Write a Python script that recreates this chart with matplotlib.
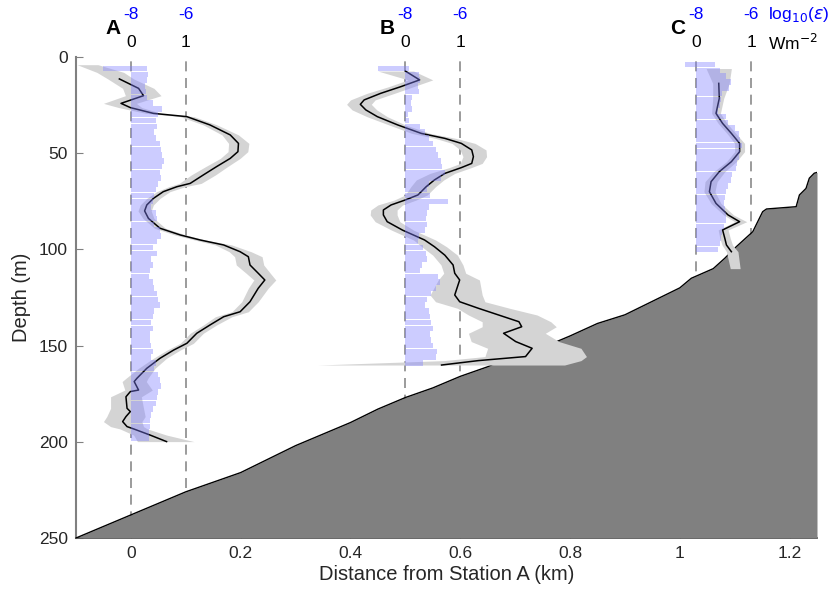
import matplotlib
matplotlib.use('Agg')
import matplotlib.pyplot as plt
import numpy as np

plt.rcParams['font.family'] = ['Liberation Sans', 'DejaVu Sans']

# ---------------- data ----------------
# bathymetry (km, m)
bathy_x = [-0.1, -0.05, 0.0, 0.05, 0.1, 0.15, 0.2, 0.25, 0.3, 0.35, 0.4, 0.45, 0.5,
           0.55, 0.6, 0.65, 0.7, 0.75, 0.8, 0.85, 0.9, 0.95, 1.0, 1.021, 1.061,
           1.082, 1.103, 1.133, 1.151, 1.158, 1.212, 1.218, 1.23, 1.236, 1.245, 1.25]
bathy_depth = [250, 244, 238, 232, 226, 221, 216, 209, 202, 196, 190, 183, 177,
               172, 166, 161, 155, 151, 145, 138.5, 134, 127, 120, 115, 110,
               104.6, 98.6, 90.8, 80.4, 79, 77.8, 71.7, 68.3, 63, 60.4, 60]

station_names = ['A', 'B', 'C']
station_x = [0.0, 0.5, 1.03]

# Station A: energy flux (W m^-2)
a_flux_depth = [11.4, 16.3, 20.1, 24.1, 26.3, 29.3, 31, 35.3, 40.5, 44.9, 49.2, 52.7,
                57, 61.3, 65.7, 67.4, 70, 73.5, 76.9, 80, 83.9, 89, 92.5, 95.1, 97.7,
                101.2, 103.8, 108.1, 112.4, 115.9, 120.2, 127.2, 132.4, 135, 139.3,
                143.6, 148.8, 152.3, 156.6, 161.8, 167, 168.7, 173.1, 173.9, 176.6,
                182.6, 184.3, 186.9, 189.5, 192.1, 193.3, 196.5, 199.9]
a_flux = [-0.21, 0.14, 0.23, -0.18, -0.01, 0.41, 1.02, 1.44, 1.81, 1.96, 1.95, 1.81,
          1.56, 1.32, 1.08, 0.84, 0.59, 0.41, 0.29, 0.25, 0.32, 0.53, 0.90, 1.26, 1.69,
          1.99, 2.14, 2.17, 2.32, 2.44, 2.32, 2.17, 1.99, 1.69, 1.44,
          1.20, 1.02, 0.78, 0.53, 0.29, 0.11, 0.06, 0.14, -0.01, -0.09,
          -0.07, -0.01, -0.09, -0.15, -0.07, 0.05, 0.35, 0.65]
a_band_depth = [4, 8, 11.4, 16.3, 20.1, 24.1, 26.3, 29.3, 31, 35.3, 40.5, 44.9, 49.2,
                52.7, 57, 61.3, 65.7, 67.4, 70, 73.5, 76.9, 80, 83.9, 89, 92.5, 95.1,
                97.7, 101.2, 103.8, 108.1, 112.4, 115.9, 120.2, 127.2, 132.4, 135,
                139.3, 143.6, 148.8, 152.3, 156.6, 161.8, 167, 168.7, 173.1, 176.6,
                182.6, 186.9, 189.5, 192.1, 193.3, 196.5, 199.9]
a_band_lo = [-0.98, -0.62, -0.42, -0.15, -0.1, -0.5, -0.22, 0.28, 0.9, 1.32, 1.66, 1.78,
             1.77, 1.63, 1.36, 1.1, 0.88, 0.69, 0.47, 0.29, 0.17, 0.13, 0.22, 0.43, 0.8,
             1.16, 1.54, 1.79, 1.89, 1.92, 2.1, 2.24, 2.14, 2.02, 1.84, 1.54,
             1.32, 1.08, 0.9, 0.66, 0.41, 0.14, -0.09, -0.16, -0.11, -0.37,
             -0.37, -0.44, -0.5, -0.37, -0.2, 0.05, 0.12]
a_band_hi = [-0.6, -0.13, 0.05, 0.42, 0.55, 0.1, 0.2, 0.55, 1.15, 1.57, 1.96, 2.15,
             2.13, 1.99, 1.76, 1.54, 1.28, 0.99, 0.71, 0.53, 0.41, 0.37, 0.42, 0.63, 1.0,
             1.36, 1.84, 2.19, 2.39, 2.42, 2.54, 2.64, 2.5, 2.32, 2.14, 1.84,
             1.56, 1.32, 1.14, 0.9, 0.65, 0.44, 0.31, 0.28, 0.39, 0.19,
             0.23, 0.26, 0.2, 0.23, 0.3, 0.65, 1.15]
# Station A: log10(epsilon)
a_eps_depth = [6, 9, 12, 15, 18, 21, 24, 27, 30, 33, 36, 39, 42, 45, 48, 51, 54, 57,
               60, 63, 66, 69, 72, 75, 78, 81, 84, 87, 90, 93, 96, 99, 102, 105, 108,
               111, 114, 117, 120, 123, 126, 129, 132, 135, 138, 141, 144, 147, 150,
               153, 156, 159, 162, 165, 168, 171, 174, 177, 180, 183, 186, 189, 192,
               195, 198]
a_eps = [-7.42, -7.36, -7.4, -7.5, -7.45, -7.4, -7.2, -6.85, -7.0, -7.1, -7.05, -7.15,
         -7.1, -6.95, -6.9, -6.85, -6.8, -6.85, -6.95, -6.9, -7.0, -7.1, -7.15, -7.2,
         -7.25, -7.1, -7.05, -7.15, -6.95, -6.9, -7.05, -7.2, -7.05, -7.25, -7.2,
         -7.3, -7.35, -7.2, -7.15, -7.05, -7.0, -6.95, -7.15, -7.2, -7.25, -7.2,
         -7.3, -7.3, -7.25, -7.2, -7.25, -7.1, -7.15, -7.0, -6.95, -6.9, -7.0, -7.05,
         -7.1, -7.2, -7.25, -7.3, -7.3, -7.35, -7.35]
a_eps_top_left = -9.0

# Station B
b_flux_depth = [7.3, 11.9, 15.4, 18.9, 22.3, 24.6, 27.5, 31, 35.3, 39.7, 42.3, 44.9,
                48.3, 51.8, 55.3, 57.5, 60.5, 63.9, 67.4, 71.7, 74.3, 76.9, 79.5, 82.1,
                85.6, 90, 95.1, 98.6, 103, 108.1, 112.4, 115.9, 123.7, 127.2, 130.6,
                134.1, 137.6, 140.2, 143.6, 147.9, 151.4, 155.7, 157.8, 160.1]
b_flux = [0.0, 0.26, -0.08, -0.45, -0.75, -0.82, -0.72, -0.51, -0.14, 0.29, 0.72, 1.02,
          1.21, 1.24, 1.21, 1.02, 0.72, 0.53, 0.38, 0.23, 0.0, -0.26, -0.40, -0.40,
          -0.33, -0.05, 0.35, 0.53, 0.72, 0.87, 0.90, 0.99, 0.90, 0.99, 1.33,
          1.70, 2.07, 2.12, 1.79, 2.01, 2.31, 2.19, 1.33, 0.66]
b_band_lo = [-0.5, 0.05, -0.3, -0.7, -1.0, -1.07, -0.97, -0.7, -0.3, 0.12, 0.55, 0.85,
             1.0, 1.05, 1.0, 0.8, 0.45, 0.2, 0.1, 0.0, -0.2, -0.5, -0.63, -0.64,
             -0.55, -0.25, 0.15, 0.3, 0.5, 0.65, 0.7, 0.6, 0.45, 0.55, 0.95,
             1.15, 1.4, 1.4, 1.15, 1.2, 1.5, 1.45, 0.7, -1.6]
b_band_hi = [0.15, 0.5, 0.15, -0.2, -0.55, -0.62, -0.52, -0.33, 0.0, 0.45, 0.92, 1.27,
             1.47, 1.48, 1.4, 1.2, 0.9, 0.7, 0.55, 0.4, 0.2, -0.05, -0.15, -0.15,
             -0.1, 0.15, 0.55, 0.75, 0.95, 1.05, 1.1, 1.35, 1.4, 1.45, 1.9,
             2.4, 2.65, 2.75, 2.55, 2.8, 3.2, 3.3, 3.2, 2.9]
b_eps_depth = [6, 9, 12, 15, 18, 21, 24, 27, 30, 33, 36, 39, 42, 45, 48, 51, 54, 57,
               60, 63, 66, 69, 72, 75, 78, 81, 84, 87, 90, 93, 96, 99, 102, 105, 108,
               111, 114, 117, 120, 123, 126, 129, 132, 135, 138, 141, 144, 147, 150,
               153, 156, 159]
b_eps = [-7.85, -7.5, -7.45, -7.55, -7.5, -7.75, -7.8, -7.75, -7.9, -7.85, -7.45, -7.3,
         -7.15, -7.0, -6.9, -6.8, -6.7, -6.65, -6.55, -6.7, -7.15, -7.2, -7.1, -6.45,
         -7.15, -7.2, -7.25, -7.2, -7.3, -7.5, -7.55, -7.35, -7.25, -7.2, -7.4,
         -7.45, -6.8, -6.75, -6.9, -7.05, -7.2, -7.3, -7.15, -7.1, -7.05, -7.0,
         -7.1, -7.05, -7.0, -6.85, -6.9, -7.35]
b_eps_top_left = -9.0

# Station C
c_flux_depth = [13.7, 21.5, 29.3, 34.5, 39.7, 44.9, 49.2, 54.4, 59.6, 64.8, 70, 76.1,
                82.1, 85.6, 89.9, 94.2, 97.7, 101.2]
c_flux = [0.41, 0.42, 0.36, 0.48, 0.64, 0.79, 0.79, 0.64, 0.42, 0.27, 0.24, 0.36,
          0.58, 0.79, 0.48, 0.52, 0.55, 0.64]
c_band_depth = [6, 13.7, 21.5, 29.3, 34.5, 39.7, 44.9, 49.2, 54.4, 59.6, 64.8, 70, 76.1,
                82.1, 85.6, 89.9, 94.2, 97.7, 101.2, 110]
c_band_lo = [0.18, 0.3, 0.3, 0.28, 0.4, 0.56, 0.7, 0.7, 0.55, 0.32, 0.16, 0.14, 0.27,
             0.5, 0.7, 0.4, 0.43, 0.47, 0.55, 0.62]
c_band_hi = [0.64, 0.6, 0.5, 0.44, 0.56, 0.72, 0.88, 0.88, 0.73, 0.52, 0.38, 0.34, 0.45,
             0.68, 0.92, 0.58, 0.62, 0.66, 0.76, 0.8]
c_eps_depth = [4, 7, 10, 13, 16, 19, 22, 25, 28, 31, 34, 37, 40, 43, 46, 49, 52, 55,
               58, 61, 64, 67, 70, 73, 76, 79, 82, 85, 88, 91, 94, 97, 100]
c_eps = [-7.3, -7.15, -6.9, -6.75, -6.8, -7.05, -7.1, -7.15, -7.2, -6.9, -6.85, -6.6,
         -6.45, -6.4, -6.35, -6.4, -6.45, -6.5, -6.55, -6.7, -6.75, -6.85, -6.9, -6.95,
         -7.0, -6.95, -6.9, -6.9, -7.0, -7.05, -7.1, -7.15, -7.2]
c_eps_top_left = -8.4

flux_tick_vals = [0, 1]
eps_tick_vals = [-8, -6]
depth_ticks = [0, 50, 100, 150, 200, 250]
dist_ticks = [0, 0.2, 0.4, 0.6, 0.8, 1.0, 1.2]
dist_tick_labels = ['0', '0.2', '0.4', '0.6', '0.8', '1', '1.2']

# scaling of the profiles onto the distance axis
flux_scale = 0.1     # km per W m^-2
eps_scale = 0.05     # km per decade
eps_base = -8

# ---------------- figure ----------------
fig = plt.figure(figsize=(8.35, 5.9), dpi=100)
ax = fig.add_axes([76/835, 1-538/590, (817-76)/835, (538-57)/590])
ax.set_xlim(-0.1, 1.25)
ax.set_ylim(250, 0)

for x0 in station_x:
    for f in flux_tick_vals:
        ax.axvline(x0 + f*flux_scale, color='#8a8a8a', ls=(0, (6, 4)), lw=1.2, zorder=1)

ax.fill_between(bathy_x, bathy_depth, 250, color='#808080', lw=0, zorder=5)
ax.plot(bathy_x, bathy_depth, color='black', lw=1.0, zorder=6)

profiles = [
    (a_flux_depth, a_flux, a_band_depth, a_band_lo, a_band_hi, a_eps_depth, a_eps, a_eps_top_left),
    (b_flux_depth, b_flux, b_flux_depth, b_band_lo, b_band_hi, b_eps_depth, b_eps, b_eps_top_left),
    (c_flux_depth, c_flux, c_band_depth, c_band_lo, c_band_hi, c_eps_depth, c_eps, c_eps_top_left),
]
for x0, (fd, fv, bd, blo, bhi, ed, ev, etl) in zip(station_x, profiles):
    ax.fill_betweenx(bd, x0 + np.array(blo)*flux_scale, x0 + np.array(bhi)*flux_scale,
                     color='#d4d4d4', lw=0, zorder=7)
    ax.plot(x0 + np.array(fv)*flux_scale, fd, color='black', lw=1.1, zorder=8)
    ev = np.array(ev)
    lefts = np.full(len(ev), float(eps_base))
    lefts[0] = etl
    ax.barh(ed, (ev - lefts)*eps_scale, left=x0 + (lefts - eps_base)*eps_scale,
            height=2.85, color='#8080ff', alpha=0.4, lw=0, zorder=9)

# top annotations
for name, x0 in zip(station_names, station_x):
    ax.text(x0 - 0.033, -15, name, fontsize=15, fontweight='bold', color='black',
            ha='center', va='center', clip_on=False)
    for f, e in zip(flux_tick_vals, eps_tick_vals):
        xx = x0 + f*flux_scale
        ax.text(xx, -7.3, str(f), fontsize=12.5, color='black', ha='center',
                va='center', clip_on=False)
        ax.text(xx, -22, str(e), fontsize=12.5, color='blue', ha='center',
                va='center', clip_on=False)
ax.text(1.16, -22, r'log$_{10}$($\epsilon$)', fontsize=12.5, color='blue',
        ha='left', va='center', clip_on=False)
ax.text(1.16, -7.3, r'Wm$^{-2}$', fontsize=12.5, color='black',
        ha='left', va='center', clip_on=False)

for s in ['top', 'right']:
    ax.spines[s].set_visible(False)
ax.spines['left'].set_color('#808080')
ax.spines['left'].set_linewidth(1.5)
ax.spines['bottom'].set_color('#333333')
ax.spines['bottom'].set_linewidth(1.2)
ax.set_yticks(depth_ticks)
ax.set_xticks(dist_ticks)
ax.set_xticklabels(dist_tick_labels)
ax.tick_params(axis='both', direction='in', length=5, color='#808080',
               labelsize=12.5, labelcolor='#262626')
ax.tick_params(axis='y', pad=6)
ax.tick_params(axis='x', pad=6)
ax.set_xlabel('Distance from Station A (km)', fontsize=14.5, color='#262626')
ax.set_ylabel('Depth (m)', fontsize=14.5, color='#262626')
ax.xaxis.set_label_coords(0.5, -0.056)
ax.yaxis.set_label_coords(-0.061, 0.5)
ax.xaxis.label.set_va('top')

fig.savefig('out.png', dpi=100)
